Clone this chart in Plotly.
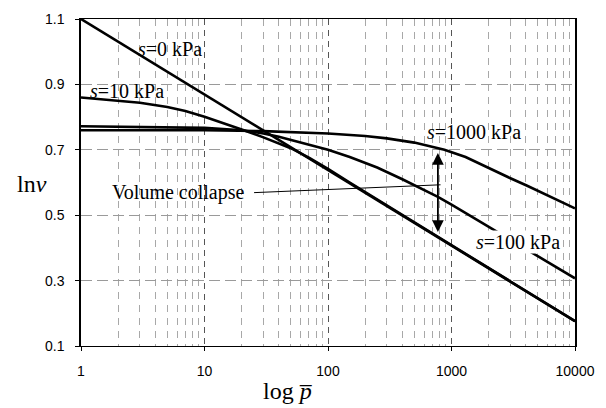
import numpy as np
import plotly.graph_objects as go

# ---- data ----
p_s0 = [1, 10, 100, 1000, 10000]
v_s0 = [1.100, 0.869, 0.638, 0.407, 0.176]

p_s10 = [1, 2, 3, 5, 7, 10, 15, 20, 30, 40, 50, 70, 100, 150, 200, 300, 500, 1000, 3000, 10000]
v_s10 = [0.860, 0.851, 0.844, 0.831, 0.819, 0.801, 0.779, 0.762, 0.738, 0.720, 0.705, 0.676, 0.642,
         0.600, 0.571, 0.530, 0.478, 0.407, 0.297, 0.176]

p_s100 = [1, 5, 10, 20, 30, 40, 60, 100, 150, 250, 400, 600, 776, 1000, 2200, 4400, 10000]
v_s100 = [0.772, 0.770, 0.767, 0.760, 0.750, 0.740, 0.722, 0.700, 0.678, 0.646, 0.610, 0.578,
          0.556, 0.532, 0.455, 0.387, 0.307]

p_s1000 = [1, 10, 30, 60, 100, 200, 300, 500, 700, 876, 1300, 1960, 3000, 4100, 6000, 10000]
v_s1000 = [0.760, 0.760, 0.757, 0.753, 0.750, 0.742, 0.735, 0.722, 0.710, 0.700, 0.678, 0.645,
           0.613, 0.590, 0.560, 0.521]

collapse_p = [776, 776]          # double arrow (volume collapse)
collapse_v = [0.690, 0.444]
pointer_p = [25.2, 815]          # pointer line from the label
pointer_v = [0.569, 0.593]

x_major = [1, 10, 100, 1000, 10000]
x_tick_text = ["1", "10", "100", "1000", "10000"]
y_ticks = [0.1, 0.3, 0.5, 0.7, 0.9, 1.1]

series = [
    ("s=0 kPa", p_s0, v_s0),
    ("s=10 kPa", p_s10, v_s10),
    ("s=100 kPa", p_s100, v_s100),
    ("s=1000 kPa", p_s1000, v_s1000),
]

fig = go.Figure()
for name, px, vy in series:
    fig.add_trace(go.Scatter(x=px, y=vy, mode="lines", name=name,
                             line=dict(color="black", width=2.6),
                             showlegend=False, hoverinfo="skip"))

fig.add_trace(go.Scatter(x=pointer_p, y=pointer_v, mode="lines",
                         line=dict(color="black", width=1), showlegend=False, hoverinfo="skip"))

minor_vals = [m * 10 ** k for k in range(4) for m in range(2, 10)]

serif = "Liberation Serif"
sans = "Liberation Sans"

fig.update_xaxes(
    type="log", range=[0, 4],
    tickvals=x_major, ticktext=x_tick_text,
    ticks="outside", ticklen=4, tickcolor="black", tickwidth=1,
    tickfont=dict(family=sans, size=14, color="black"),
    showline=True, linecolor="black", linewidth=1.3, mirror=True,
    showgrid=True, gridcolor="#555555", griddash="6px,5px", gridwidth=1,
    minor=dict(tickvals=minor_vals, showgrid=True, gridcolor="#a8a8a8",
               griddash="7px,6px", gridwidth=1, ticks=""),
    zeroline=False, ticklabelstandoff=8,
)
fig.update_yaxes(
    range=[0.1, 1.1], tickvals=y_ticks, ticktext=[f"{t:.1f}" for t in y_ticks],
    ticks="outside", ticklen=4, tickcolor="black", tickwidth=1,
    tickfont=dict(family=sans, size=14, color="black"),
    showline=True, linecolor="black", linewidth=1.5, mirror=True,
    showgrid=True, gridcolor="#9a9a9a", griddash="11px,5px", gridwidth=1,
    zeroline=False, ticklabelstandoff=8,
)

lg = np.log10
annotations = [
    dict(x=lg(5.3), y=1.007, text="<i>s</i>=0 kPa"),
    dict(x=lg(2.35), y=0.879, text="<i>s</i>=10 kPa"),
    dict(x=lg(1510), y=0.754, text="<i>s</i>=1000 kPa"),
    dict(x=lg(3475), y=0.419, text="<i>s</i>=100 kPa", bgcolor="white", borderpad=0),
    dict(x=lg(6.15), y=0.569, text="Volume collapse"),
]
for a in annotations:
    a.update(xref="x", yref="y", showarrow=False, xanchor="center", yanchor="middle",
             font=dict(family=serif, size=20, color="black"))
    fig.add_annotation(**a)

# double-headed arrow
fig.add_annotation(x=lg(collapse_p[0]), y=collapse_v[0], ax=lg(collapse_p[1]), ay=collapse_v[1],
                   xref="x", yref="y", axref="x", ayref="y", text="", showarrow=True,
                   arrowhead=2, arrowside="end+start", arrowsize=1.3, arrowwidth=1.8,
                   arrowcolor="black", standoff=0, startstandoff=0)

# axis titles (positions given in pixels, converted to paper units)
W, H = 606, 408
L, R, T, B = 81, 28, 11, 62
pw, ph = W - L - R, H - T - B
fig.add_annotation(x=(32 - L) / pw, y=(H - B - 180) / ph, xref="paper", yref="paper",
                   xanchor="center", yanchor="middle", text="ln<i>v</i>", showarrow=False,
                   font=dict(family=serif, size=24, color="black"))
fig.add_annotation(x=(289 - L) / pw, y=-(392 - (H - B)) / ph, xref="paper", yref="paper",
                   xanchor="center", yanchor="middle", text="log <i>p\u0305</i>", showarrow=False,
                   font=dict(family=serif, size=24, color="black"))

fig.update_layout(
    width=W, height=H,
    margin=dict(l=L, r=R, t=T, b=B),
    plot_bgcolor="white", paper_bgcolor="white",
)

fig.write_html("out.html")
